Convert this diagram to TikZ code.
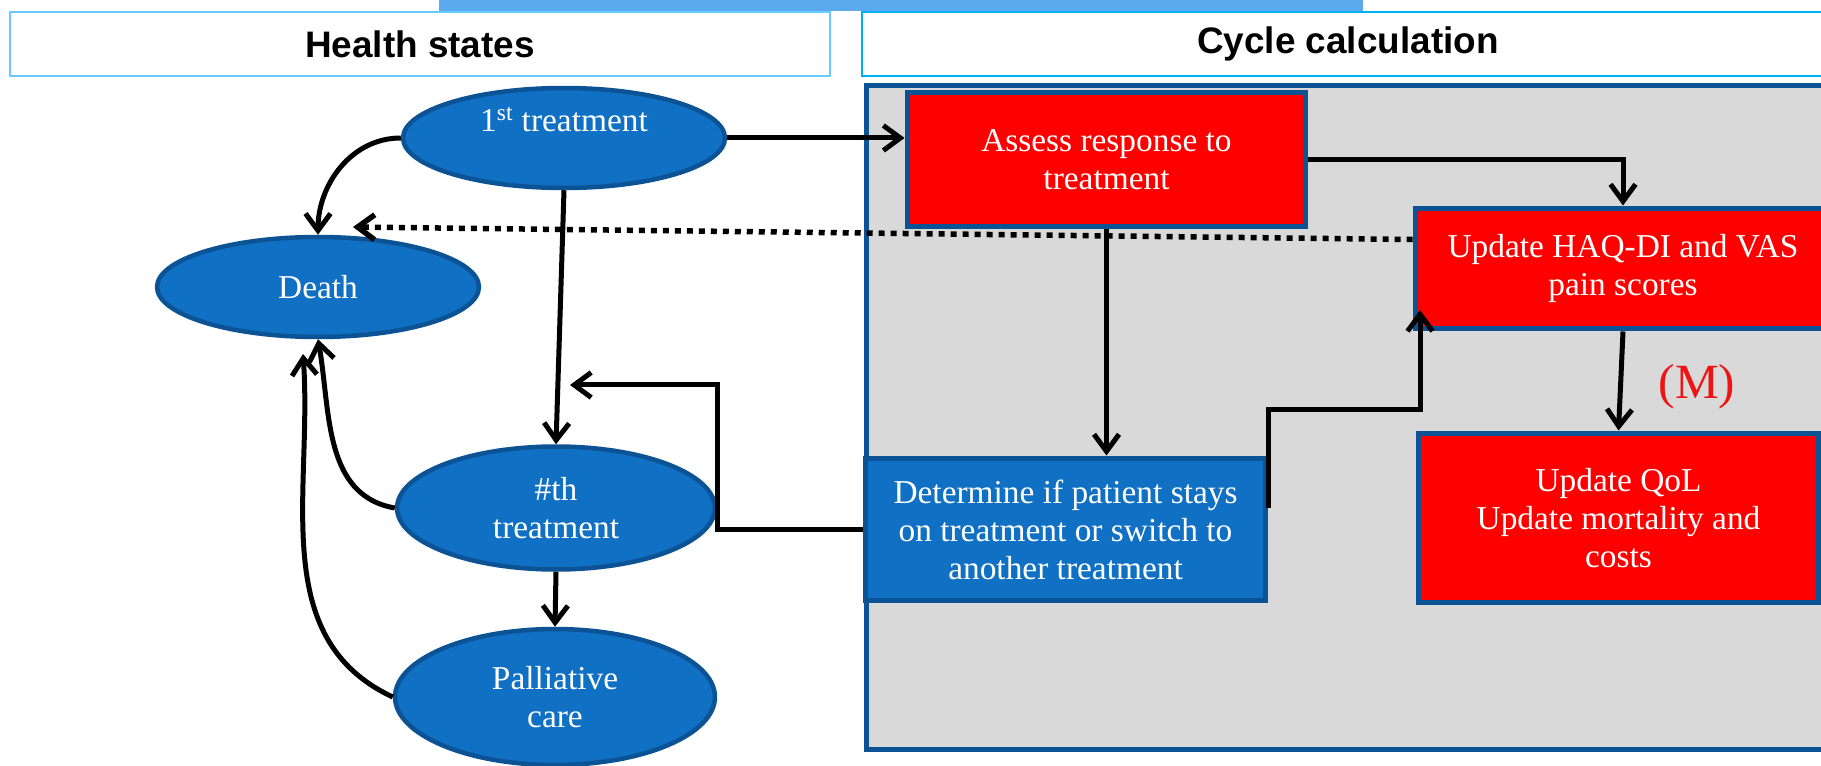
\documentclass[tikz,border=0pt]{standalone}
\usepackage{fontspec}
\setmainfont{Liberation Serif}
\newfontfamily\headfont{Liberation Sans}
\usepackage{tikz}
\usetikzlibrary{shapes.geometric, arrows.meta, calc}

\newcommand{\statefont}{\fontsize{19}{21.6}\selectfont}

\begin{document}
\begin{tikzpicture}[x=0.02cm, y=0.02cm,
        state/.style={ellipse, draw=edgeblue, line width=0.09cm, fill=stateblue, text=white, align=center, font=\statefont, inner sep=0pt},
        calcbox/.style={rectangle, draw=edgeblue, line width=0.1cm, text=white, align=center, font=\statefont, inner sep=0pt},
        headbox/.style={rectangle, draw=#1, line width=0.05cm, fill=white, minimum height=1.28cm, font=\headfont\bfseries\fontsize{21}{25}\selectfont},
        arr/.style={-{Straight Barb[length=0.34cm, width=0.5cm]}, line width=0.1cm},
        dotarr/.style={arr, line width=0.11cm, dash pattern=on 0.12cm off 0.12cm}]

        % Define colors for the states and the calculation steps
        \definecolor{stateblue}{RGB}{16,112,196}
        \definecolor{edgeblue}{RGB}{11,83,148}
        \definecolor{panelgrey}{RGB}{217,217,217}
        \definecolor{barblue}{RGB}{91,170,240}
        \definecolor{healthcyan}{RGB}{102,204,255}
        \definecolor{cyclecyan}{RGB}{0,176,240}
        \definecolor{mred}{RGB}{238,20,20}

        \clip (0,0) rectangle (1821,-766);
        \fill[white] (0,0) rectangle (1821,-766);

        % Top bar and the two headers
        \fill[barblue] (439,0) rectangle (1363,-11);
        \node[headbox=healthcyan, minimum width=16.4cm] (hshead) at (420,-44) {Health states};
        \node[headbox=cyclecyan, minimum width=19.44cm] (cchead) at (1348,-44) {Cycle calculation};

        % Grey panel behind the cycle calculation
        \filldraw[fill=panelgrey, draw=edgeblue, line width=0.1cm] (866,-86) rectangle (1850,-749);

        % Health states
        \node[state, minimum width=6.44cm, minimum height=2cm] (first) at (564,-138) {1\textsuperscript{st} treatment\\ \mbox{}};
        \node[state, minimum width=6.44cm, minimum height=2cm] (death) at (318,-287) {Death};
        \node[state, minimum width=6.36cm, minimum height=2.46cm] (nth) at (556,-508) {\#th\\treatment};
        \node[state, minimum width=6.4cm, minimum height=2.72cm] (pall) at (555,-697) {Palliative\\care};

        % Cycle calculation steps
        \node[calcbox, fill=red, minimum width=7.98cm, minimum height=2.7cm] (assess) at (1106.5,-159.5) {Assess response to\\treatment};
        \node[calcbox, fill=red, minimum width=8.32cm, minimum height=2.42cm] (haq) at (1623,-268.5) {Update HAQ-DI and VAS\\pain scores};
        \node[calcbox, fill=red, minimum width=8.02cm, minimum height=3.4cm] (qol) at (1618.5,-518) {Update QoL\\Update mortality and\\costs};
        \node[calcbox, fill=stateblue, minimum width=8.02cm, minimum height=2.86cm] (det) at (1065.5,-529.5) {Determine if patient stays\\on treatment or switch to\\another treatment};
        \node[text=mred, font=\fontsize{28}{30}\selectfont] (mnote) at (1697,-387) {(M)};

        % Free ends of some arrows
        \coordinate (uptip) at (1420,-310);
        \coordinate (backtip) at (570,-385);
        \coordinate (deathtip) at (303,-354);
        \coordinate (dottip) at (353,-227);

        % Arrows between the states
        \draw[arr] (first.south) -- (nth.north);
        \draw[arr] (nth.south) -- (pall.north);
        \draw[arr] (first.west) to[out=180, in=90] (death.north);
        \draw[arr] (nth.west) to[out=170, in=-80] (death.south);
        \draw[arr] (pall.west) to[out=155, in=-86] (deathtip);

        % Arrows of the cycle
        \draw[arr] (first.east) -- (first.east -| assess.west);
        \draw[arr] (assess.east) -| (haq.north);
        \draw[arr] (assess.south) -- (assess.south |- det.north);
        \draw[arr] (haq.south) -- (qol.north);
        \draw[arr] ([yshift=-1.04cm]det.north east) |- ($(uptip)+(0,-100)$) -- (uptip);
        \draw[arr] (det.west) -- (det.west -| nth.east) |- (backtip);
        \draw[dotarr] ([yshift=-0.68cm]haq.north west) -- (dottip);

\end{tikzpicture}
\end{document}
